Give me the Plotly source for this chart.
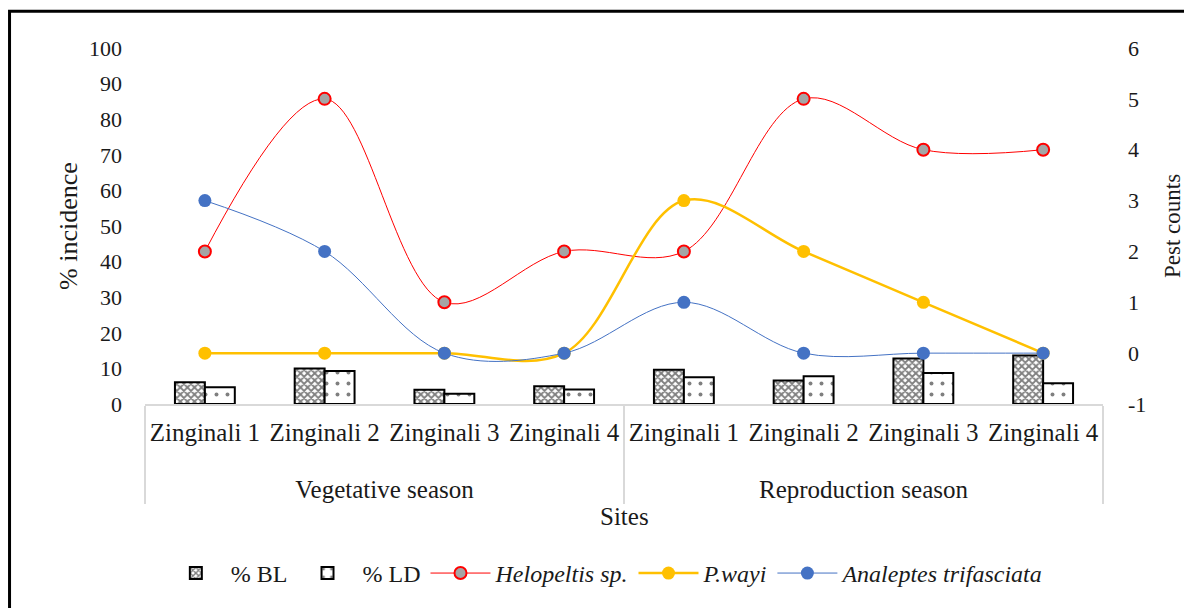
import plotly.graph_objects as go

seasons = ["<br>Vegetative season"] * 4 + ["<br>Reproduction season"] * 4
sites = ["Zinginali 1", "Zinginali 2", "Zinginali 3", "Zinginali 4"] * 2

pct_bl = [6.1, 10.0, 4.0, 5.0, 9.6, 6.6, 12.8, 13.6]
pct_ld = [4.7, 9.3, 2.9, 4.1, 7.5, 7.8, 8.7, 5.8]

helopeltis = [2, 5, 1, 2, 2, 5, 4, 4]
p_wayi = [0, 0, 0, 0, 3, 2, 1, 0]
analeptes = [3, 2, 0, 0, 1, 0, 0, 0]

left_ticks = list(range(0, 101, 10))
right_ticks = list(range(-1, 7))
right_tick_text = ["-1", "0", "1", "2", "3", "4", "5", "6"]

FONT = "'Liberation Serif', 'Times New Roman', Times, serif"
x = [seasons, sites]

fig = go.Figure()
fig.add_trace(go.Bar(
    x=x, y=pct_bl, name="% BL",
    marker=dict(color="white", line=dict(color="black", width=2),
                pattern=dict(shape="x", fgcolor="black", bgcolor="white", size=5, solidity=0.6)),
))
fig.add_trace(go.Bar(
    x=x, y=pct_ld, name="% LD",
    marker=dict(color="white", line=dict(color="black", width=2),
                pattern=dict(shape=".", fgcolor="black", bgcolor="white", size=11, solidity=0.1)),
))
fig.add_trace(go.Scatter(
    x=x, y=helopeltis, name="<i>Helopeltis sp.</i>", yaxis="y2",
    mode="lines+markers", line=dict(color="#FF0000", width=1, shape="spline", smoothing=1),
    marker=dict(size=12, color="#A5A5A5", line=dict(color="#FF0000", width=2)),
))
fig.add_trace(go.Scatter(
    x=x, y=p_wayi, name="<i>P.wayi</i>", yaxis="y2",
    mode="lines+markers", line=dict(color="#FFC000", width=2.5, shape="spline", smoothing=1),
    marker=dict(size=13, color="#FFC000"),
))
fig.add_trace(go.Scatter(
    x=x, y=analeptes, name="<i>Analeptes trifasciata</i>", yaxis="y2",
    mode="lines+markers", line=dict(color="#4472C4", width=1, shape="spline", smoothing=1),
    marker=dict(size=13, color="#4472C4"),
))

fig.update_layout(
    width=1184, height=600,
    margin=dict(l=137, r=89, t=40, b=201),
    paper_bgcolor="white", plot_bgcolor="white",
    font=dict(family=FONT, size=22, color="#1a1a1a"),
    barmode="group", bargap=0.5, bargroupgap=0,
    showlegend=True,
    legend=dict(orientation="h", x=0.48, xanchor="center", y=-0.476, yanchor="middle",
                font=dict(family=FONT, size=24), itemwidth=60, tracegroupgap=0),
    xaxis=dict(type="multicategory", showline=True, linecolor="#D9D9D9", linewidth=2,
               showdividers=True, dividercolor="#D9D9D9", dividerwidth=2, ticklabelstandoff=5,
               tickfont=dict(family=FONT, size=25), showgrid=False, automargin=False),
    yaxis=dict(range=[0, 100], tickvals=left_ticks, showgrid=False, zeroline=False,
               showline=False, ticklabelstandoff=22, tickfont=dict(family=FONT, size=22),
               automargin=False),
    yaxis2=dict(range=[-1, 6], tickvals=right_ticks, ticktext=right_tick_text, overlaying="y",
                side="right", showgrid=False, zeroline=False, showline=False, ticklabelstandoff=24,
                tickfont=dict(family=FONT, size=22), automargin=False),
    annotations=[
        dict(text="Sites", x=0.5, y=-0.315, xref="paper", yref="paper", showarrow=False,
             font=dict(family=FONT, size=25), xanchor="center", yanchor="middle"),
        dict(text="% incidence", x=-0.0804, y=0.5, xref="paper", yref="paper", showarrow=False,
             textangle=-90, font=dict(family=FONT, size=26), xanchor="center", yanchor="middle"),
        dict(text="Pest counts", x=1.072, y=0.5, xref="paper", yref="paper", showarrow=False,
             textangle=-90, font=dict(family=FONT, size=23), xanchor="center", yanchor="middle"),
    ],
    shapes=[dict(type="rect", xref="paper", yref="paper", x0=-0.1414, x1=1.12, y0=-0.6, y1=1.1031,
                 line=dict(color="black", width=3), fillcolor="rgba(0,0,0,0)", layer="above")],
)

fig.write_html("out.html")
